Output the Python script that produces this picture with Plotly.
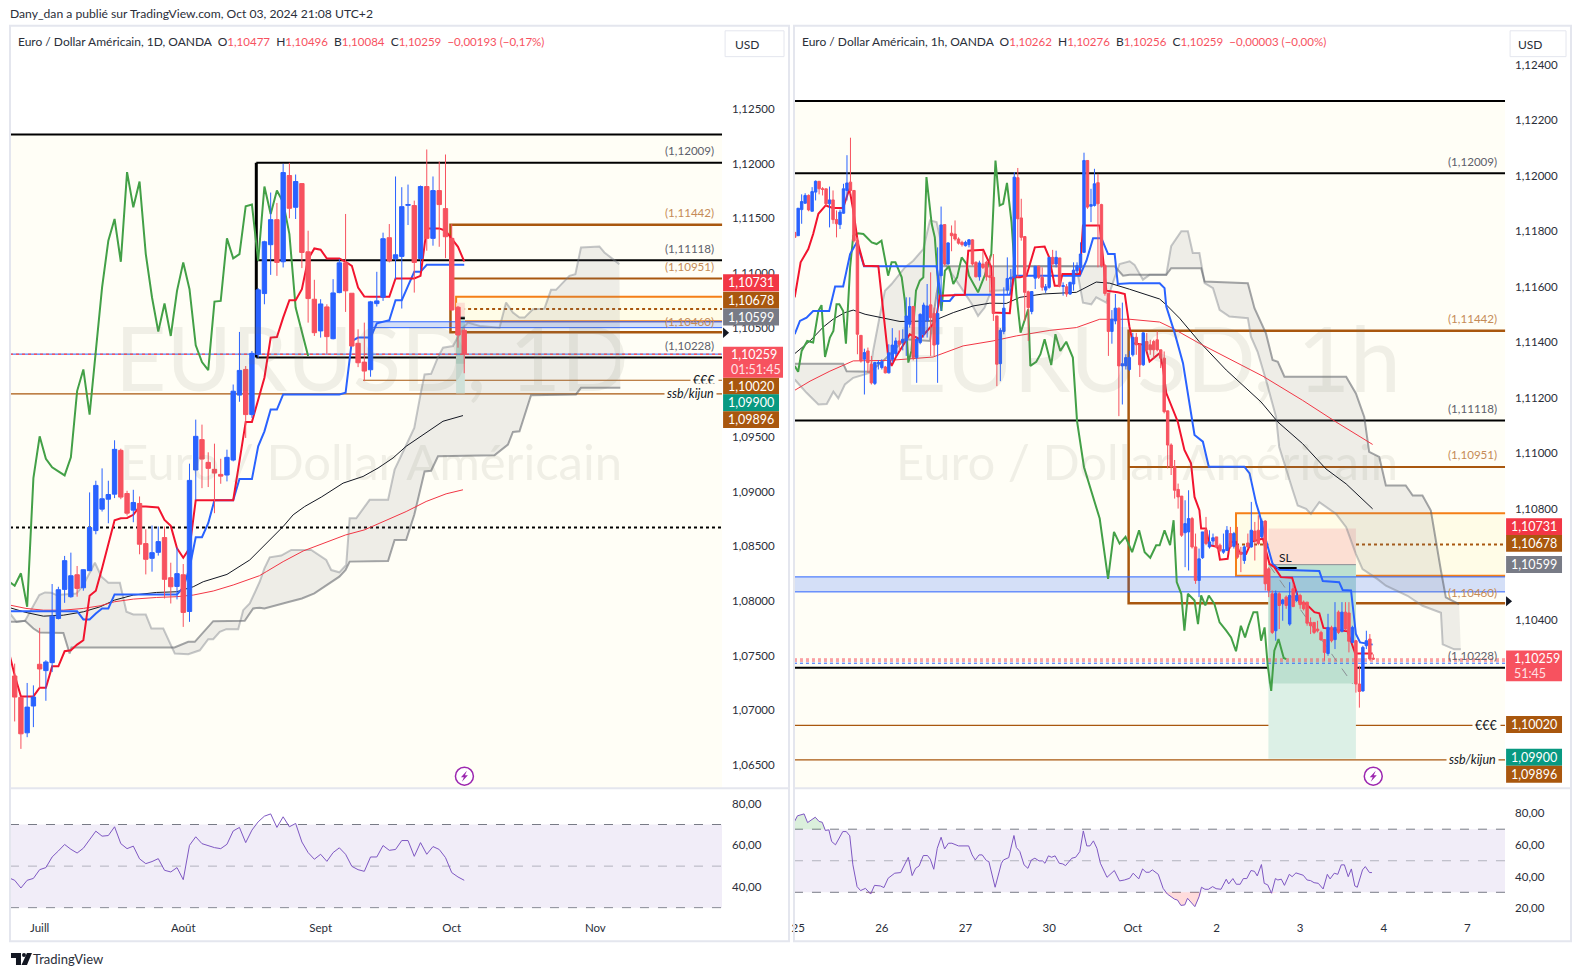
import plotly.graph_objects as go

W, H = 1578, 977

BLUE = "#2962ff"
RED = "#f7525f"
BROWN = "#a9570e"
ORANGE = "#f57f17"
CREAM = "#fffef6"
FONT = "Lato"
TXT = "#2a2e39"

# --- daily pane, bar 0 is the first visible candle
d_open = [1.07315, 1.07119, 1.06795, 1.07040, 1.07422, 1.07364, 1.07437, 1.07841, 1.08107, 1.08040,
          1.08241, 1.08122, 1.08278, 1.08645, 1.08841, 1.08932, 1.08978, 1.09379, 1.08984, 1.08832,
          1.08893, 1.08526, 1.08391, 1.08446, 1.08581, 1.08214, 1.08134, 1.08241, 1.07905, 1.09199,
          1.09477, 1.09269, 1.09205, 1.09159, 1.09153, 1.09290, 1.09884, 1.10119, 1.09706, 1.10257,
          1.10813, 1.11260, 1.11489, 1.11104, 1.11893, 1.11602, 1.11819, 1.11195, 1.10761, 1.10471,
          1.10691, 1.10400, 1.10822, 1.11094, 1.10816, 1.10358, 1.10186, 1.10116, 1.10721, 1.10780,
          1.11324, 1.11131, 1.11153, 1.11620, 1.11618, 1.11134, 1.11792, 1.11318, 1.11755, 1.11590,
          1.11318, 1.10688, 1.10477]
d_close = [1.07122, 1.06786, 1.07030, 1.07122, 1.07379, 1.07443, 1.07862, 1.08104, 1.08370, 1.08232,
           1.08116, 1.08287, 1.08673, 1.09058, 1.08936, 1.08975, 1.09388, 1.08951, 1.08804, 1.08902,
           1.08520, 1.08382, 1.08443, 1.08544, 1.08199, 1.08131, 1.08251, 1.07896, 1.09104, 1.09507,
           1.09299, 1.09214, 1.09171, 1.09143, 1.09315, 1.09920, 1.10110, 1.09706, 1.10266, 1.10847,
           1.11287, 1.11489, 1.11098, 1.11920, 1.11593, 1.11838, 1.11189, 1.10767, 1.10455, 1.10718,
           1.10419, 1.10819, 1.11094, 1.10838, 1.10333, 1.10180, 1.10104, 1.10737, 1.10746, 1.11315,
           1.11113, 1.11168, 1.11608, 1.11627, 1.11098, 1.11792, 1.11318, 1.11755, 1.11627, 1.11333,
           1.10663, 1.10434, 1.10259]
d_high = [1.07428, 1.07125, 1.07251, 1.07229, 1.07755, 1.07459, 1.08156, 1.08131, 1.08413, 1.08443,
          1.08321, 1.08290, 1.08994, 1.09101, 1.09214, 1.09101, 1.09471, 1.09394, 1.09009, 1.09018,
          1.08957, 1.08657, 1.08691, 1.08682, 1.08682, 1.08351, 1.08489, 1.08339, 1.09257, 1.09660,
          1.09614, 1.09361, 1.09440, 1.09302, 1.09385, 1.09981, 1.10462, 1.10150, 1.10287, 1.10862,
          1.11296, 1.11737, 1.11642, 1.12000, 1.12009, 1.11902, 1.11819, 1.11388, 1.10939, 1.10761,
          1.10715, 1.10945, 1.11128, 1.11541, 1.10816, 1.10486, 1.10547, 1.10746, 1.11012, 1.11370,
          1.11449, 1.11884, 1.11786, 1.11810, 1.11663, 1.11801, 1.12131, 1.11884, 1.12021, 1.12085,
          1.11449, 1.10700, 1.10496]
d_low = [1.06899, 1.06648, 1.06755, 1.06847, 1.07208, 1.07088, 1.07351, 1.07832, 1.07984, 1.08030,
         1.08040, 1.08095, 1.08275, 1.08611, 1.08819, 1.08712, 1.08942, 1.08932, 1.08783, 1.08721,
         1.08428, 1.08244, 1.08269, 1.08416, 1.08024, 1.07978, 1.08015, 1.07764, 1.07810, 1.08926,
         1.09033, 1.09043, 1.08804, 1.09073, 1.09095, 1.09278, 1.09823, 1.09492, 1.09676, 1.10226,
         1.10715, 1.10984, 1.10975, 1.11052, 1.11501, 1.11495, 1.11046, 1.10547, 1.10425, 1.10410,
         1.10257, 1.10394, 1.10816, 1.10645, 1.10333, 1.10140, 1.10012, 1.10052, 1.10694, 1.10746,
         1.11098, 1.10945, 1.10676, 1.11440, 1.10822, 1.11021, 1.11205, 1.11251, 1.11241, 1.11137,
         1.10654, 1.10318, 1.10084]

# tenkan, kijun and lagging span start one bar before the first candle
d_tenkan = [1.07550, 1.07321, 1.07128, 1.07128, 1.07128, 1.07208, 1.07208, 1.07403, 1.07403, 1.07541,
            1.07550, 1.07602, 1.07642, 1.08049, 1.08095, 1.08300, 1.08529, 1.08740, 1.08758, 1.08761,
            1.08789, 1.08865, 1.08865, 1.08859, 1.08856, 1.08743, 1.08688, 1.08483, 1.08397, 1.08483,
            1.08923, 1.08923, 1.08923, 1.08923, 1.08923, 1.08923, 1.08923, 1.09278, 1.09639, 1.09639,
            1.09844, 1.10043, 1.10410, 1.10416, 1.10593, 1.10752, 1.10752, 1.10853, 1.11128, 1.11226,
            1.11214, 1.11134, 1.11134, 1.11134, 1.11104, 1.11067, 1.10868, 1.10786, 1.10783, 1.10783,
            1.10783, 1.10783, 1.10951, 1.10951, 1.10951, 1.10951, 1.10975, 1.11409, 1.11409, 1.11409,
            1.11388, 1.11312, 1.11241, 1.11107]
d_kijun = [1.07908, 1.07908, 1.07908, 1.07908, 1.07908, 1.07908, 1.07908, 1.07908, 1.07908, 1.07908,
           1.07908, 1.07908, 1.07832, 1.07832, 1.07887, 1.07933, 1.07933, 1.08061, 1.08061, 1.08061,
           1.08061, 1.08061, 1.08061, 1.08061, 1.08061, 1.08061, 1.08061, 1.08061, 1.08125, 1.08300,
           1.08584, 1.08584, 1.08712, 1.08923, 1.08923, 1.08923, 1.08923, 1.09116, 1.09116, 1.09116,
           1.09416, 1.09553, 1.09752, 1.09752, 1.09890, 1.09890, 1.09890, 1.09890, 1.09890, 1.09890,
           1.09890, 1.09890, 1.09890, 1.09890, 1.09905, 1.10379, 1.10410, 1.10410, 1.10410, 1.10541,
           1.10556, 1.10569, 1.10752, 1.10752, 1.10884, 1.11012, 1.11012, 1.11076, 1.11076, 1.11076,
           1.11076, 1.11076, 1.11076, 1.11076]
d_chikou = [1.08183, 1.08140, 1.08254, 1.07948, 1.09125, 1.09507, 1.09302, 1.09223, 1.09186, 1.09150,
            1.09315, 1.09921, 1.10119, 1.09706, 1.10288, 1.10869, 1.11297, 1.11495, 1.11104, 1.11924,
            1.11602, 1.11838, 1.11174, 1.10777, 1.10465, 1.10722, 1.10425, 1.10838, 1.11098, 1.10853,
            1.10339, 1.10187, 1.10113, 1.10740, 1.10746, 1.11318, 1.11135, 1.11174, 1.11612, 1.11627,
            1.11113, 1.11792, 1.11541, 1.11755, 1.11648, 1.11357, 1.10685, 1.10471, 1.10241]

d_ema_black_bars = [-0.75, 1.8, 4.6, 7.8, 11, 13.7, 16, 19, 22.7, 25.9, 28.6, 30.2, 34, 37.65, 43, 44.6,
                    46.45, 49.1, 52.6, 55.8, 58.2, 60.6, 62.7, 65.9, 68.6, 71.8]
d_ema_black = [1.07939, 1.07896, 1.07862, 1.07871, 1.07902, 1.07948, 1.08009, 1.08055, 1.08079, 1.08085,
               1.08131, 1.08177, 1.08244, 1.08376, 1.08682, 1.08789, 1.08865, 1.08951, 1.09079, 1.09140,
               1.09217, 1.09309, 1.09416, 1.09538, 1.09645, 1.09697]
d_ema_red_bars = [-0.75, 1.8, 4.6, 7.8, 11, 13.7, 16, 19, 22.7, 25.9, 28.6, 31.8, 35, 39.2, 40.3, 43, 46.2,
                  49.1, 53, 56, 59, 62.7, 65.9, 69.1, 71.8]
d_ema_red = [1.07963, 1.07933, 1.07917, 1.07917, 1.07933, 1.07957, 1.07994, 1.08018, 1.08033, 1.08040,
             1.08055, 1.08092, 1.08147, 1.08232, 1.08269, 1.08361, 1.08458, 1.08520, 1.08605, 1.08651,
             1.08728, 1.08819, 1.08911, 1.08981, 1.09018]

d_span_a_bars = [-0.75, 0.3, 1.65, 2.7, 3.94, 4.85, 5.9, 6.7, 9.9, 11, 12.85, 13.9, 15, 16.85, 17.9, 19, 21,
                 21.9, 23.8, 25.65, 27.8, 29.65, 31, 31.8, 32.85, 33.9, 35.8, 36.6, 37.65, 39.25, 40, 40.85,
                 42.7, 44.3, 47.5, 49.9, 50.7, 52, 53.1, 53.65, 54.7, 56.85, 59.8, 60.85, 62.7, 64, 65.1,
                 65.65, 66.7, 67.8, 68.6, 70.2, 71.8, 72.6, 74.5, 77.65, 78.7, 79.8, 80.85, 81.65, 83, 84.85,
                 85.9, 86.7, 88.85, 89.8, 90.7, 93.65, 94.45, 96.85]
d_span_a = [1.07887, 1.07810, 1.07819, 1.07933, 1.08055, 1.08079, 1.08076, 1.08055, 1.08070, 1.08147, 1.08351,
            1.08223, 1.08168, 1.08168, 1.07902, 1.07877, 1.07877, 1.07749, 1.07749, 1.07520, 1.07514, 1.07550,
            1.07651, 1.07651, 1.07719, 1.07743, 1.07743, 1.07917, 1.07978, 1.08177, 1.08299, 1.08400, 1.08416,
            1.08468, 1.08468, 1.08376, 1.08284, 1.08263, 1.08330, 1.08758, 1.08758, 1.08926, 1.08926, 1.09202,
            1.09431, 1.09584, 1.09920, 1.10073, 1.10079, 1.10232, 1.10318, 1.10333, 1.10501, 1.10547, 1.10516,
            1.10501, 1.10731, 1.10639, 1.10593, 1.10593, 1.10669, 1.10675, 1.10847, 1.10847, 1.10975, 1.10990,
            1.11235, 1.11244, 1.11189, 1.11082]
d_span_b_bars = [-0.75, 0.3, 1.65, 3, 4, 7.8, 8.8, 9.1, 25.6, 27.8, 28.85, 31.8, 36.85, 38.2, 39.25, 40, 44, 46,
                 48, 50, 52, 53, 53.65, 59.8, 60.85, 62.7, 64, 65.65, 66.7, 67.8, 76.85, 79, 79.8, 80.85, 82.7,
                 89.9, 90.7, 97]
d_span_b = [1.07810, 1.07810, 1.07819, 1.07749, 1.07712, 1.07709, 1.07520, 1.07575, 1.07575, 1.07627, 1.07627,
            1.07816, 1.07819, 1.07933, 1.07939, 1.07932, 1.07994, 1.08024, 1.08070, 1.08146, 1.08223, 1.08284,
            1.08361, 1.08367, 1.08559, 1.08559, 1.08789, 1.09186, 1.09192, 1.09324, 1.09333, 1.09431, 1.09547,
            1.09553, 1.09883, 1.09890, 1.09951, 1.09951]

d_rsi = [44.5, 43.2, 39.5, 43.2, 44.1, 48.3, 49.3, 54.4, 57.3, 60.4, 58.1, 56.3, 58.6, 62.9, 66.8, 64.4, 64.7,
         68.9, 60.8, 58.4, 59.6, 53.5, 51.2, 52.2, 53.6, 48.0, 47.2, 49.3, 43.5, 60.0, 64.1, 60.8, 59.7, 58.9,
         58.4, 60.5, 66.9, 68.6, 61.3, 67.3, 71.3, 74.0, 75.1, 68.6, 73.7, 68.9, 70.5, 61.6, 56.5, 53.3, 55.7,
         52.3, 56.5, 58.8, 55.7, 49.9, 48.3, 47.5, 54.4, 54.4, 59.9, 57.6, 58.0, 62.3, 62.3, 54.7, 61.3, 55.7,
         59.4, 58.0, 54.1, 46.9, 44.8, 43.2]

# --- hourly pane
h1_open = [1.11796, 1.11784, 1.11878, 1.11901, 1.11929, 1.11872, 1.11941, 1.11980, 1.11953, 1.11953,
           1.11899, 1.11913, 1.11842, 1.11824, 1.11865, 1.11947, 1.11977, 1.11947, 1.11766, 1.11425,
           1.11339, 1.11369, 1.11321, 1.11252, 1.11323, 1.11309, 1.11311, 1.11290, 1.11339, 1.11359,
           1.11405, 1.11399, 1.11405, 1.11465, 1.11529, 1.11345, 1.11399, 1.11429, 1.11477, 1.11535,
           1.11504, 1.11393, 1.11640, 1.11824, 1.11682, 1.11793, 1.11790, 1.11772, 1.11760, 1.11748,
           1.11752, 1.11769, 1.11688, 1.11636, 1.11682, 1.11688, 1.11640, 1.11634, 1.11495, 1.11323,
           1.11439, 1.11588, 1.11628, 1.11634, 1.11993, 1.11848, 1.11781, 1.11582, 1.11511, 1.11631,
           1.11674, 1.11634, 1.11588, 1.11598, 1.11706, 1.11682, 1.11704, 1.11601, 1.11600, 1.11574,
           1.11610, 1.11658, 1.11670, 1.11724, 1.12055, 1.11890, 1.11893, 1.11975, 1.11896, 1.11676,
           1.11577, 1.11439, 1.11477, 1.11523, 1.11315, 1.11315, 1.11302, 1.11355, 1.11418, 1.11391,
           1.11319, 1.11403, 1.11391, 1.11403, 1.11409, 1.11373, 1.11343, 1.11153, 1.11030, 1.10952,
           1.10870, 1.10846, 1.10714, 1.10717, 1.10765, 1.10663, 1.10542, 1.10624, 1.10723, 1.10663,
           1.10684, 1.10699, 1.10669, 1.10644, 1.10650, 1.10711, 1.10665, 1.10669, 1.10644, 1.10614,
           1.10677, 1.10663, 1.10720, 1.10723, 1.10699, 1.10756, 1.10584, 1.10494, 1.10361, 1.10494,
           1.10458, 1.10482, 1.10385, 1.10512, 1.10470, 1.10488, 1.10464, 1.10464, 1.10391, 1.10391,
           1.10367, 1.10355, 1.10329, 1.10279, 1.10373, 1.10329, 1.10428, 1.10359, 1.10428, 1.10425,
           1.10319, 1.10325, 1.10169, 1.10144, 1.10307, 1.10331, 1.10262]
h1_close = [1.11778, 1.11883, 1.11907, 1.11929, 1.11877, 1.11943, 1.11980, 1.11953, 1.11951, 1.11899,
            1.11913, 1.11842, 1.11827, 1.11869, 1.11953, 1.11974, 1.11947, 1.11766, 1.11429, 1.11333,
            1.11363, 1.11327, 1.11254, 1.11327, 1.11327, 1.11330, 1.11290, 1.11362, 1.11390, 1.11405,
            1.11393, 1.11411, 1.11495, 1.11529, 1.11345, 1.11411, 1.11501, 1.11534, 1.11531, 1.11489,
            1.11390, 1.11504, 1.11823, 1.11682, 1.11758, 1.11784, 1.11772, 1.11757, 1.11752, 1.11760,
            1.11769, 1.11682, 1.11636, 1.11686, 1.11670, 1.11636, 1.11634, 1.11504, 1.11321, 1.11443,
            1.11523, 1.11630, 1.11634, 1.11995, 1.11845, 1.11778, 1.11580, 1.11525, 1.11583, 1.11674,
            1.11634, 1.11598, 1.11600, 1.11706, 1.11682, 1.11706, 1.11604, 1.11604, 1.11574, 1.11616,
            1.11660, 1.11676, 1.11718, 1.12055, 1.11887, 1.11896, 1.11971, 1.11899, 1.11676, 1.11576,
            1.11439, 1.11483, 1.11523, 1.11315, 1.11323, 1.11345, 1.11345, 1.11418, 1.11391, 1.11319,
            1.11434, 1.11373, 1.11373, 1.11373, 1.11373, 1.11343, 1.11150, 1.11030, 1.10952, 1.10867,
            1.10843, 1.10705, 1.10747, 1.10765, 1.10663, 1.10542, 1.10620, 1.10717, 1.10675, 1.10681,
            1.10696, 1.10663, 1.10650, 1.10653, 1.10723, 1.10663, 1.10711, 1.10626, 1.10636, 1.10663,
            1.10663, 1.10723, 1.10687, 1.10675, 1.10756, 1.10530, 1.10506, 1.10355, 1.10496, 1.10452,
            1.10472, 1.10452, 1.10488, 1.10448, 1.10488, 1.10455, 1.10440, 1.10388, 1.10379, 1.10355,
            1.10361, 1.10328, 1.10283, 1.10373, 1.10325, 1.10373, 1.10355, 1.10428, 1.10367, 1.10323,
            1.10373, 1.10169, 1.10142, 1.10301, 1.10325, 1.10259, 1.10259]
h1_high = [1.11796, 1.11883, 1.11933, 1.11937, 1.11933, 1.11959, 1.11983, 1.11980, 1.11959, 1.11953,
           1.11961, 1.11947, 1.11875, 1.11878, 1.11971, 1.12074, 1.12137, 1.11947, 1.11778, 1.11425,
           1.11377, 1.11381, 1.11351, 1.11330, 1.11336, 1.11339, 1.11315, 1.11393, 1.11451, 1.11417,
           1.11443, 1.11447, 1.11562, 1.11562, 1.11531, 1.11421, 1.11504, 1.11543, 1.11610, 1.11652,
           1.11525, 1.11742, 1.11889, 1.11824, 1.11760, 1.11821, 1.11839, 1.11778, 1.11766, 1.11766,
           1.11772, 1.11772, 1.11692, 1.11694, 1.11730, 1.11694, 1.11712, 1.11718, 1.11495, 1.11451,
           1.11598, 1.11706, 1.11664, 1.12013, 1.12028, 1.11917, 1.11781, 1.11586, 1.11583, 1.11674,
           1.11676, 1.11670, 1.11610, 1.11706, 1.11733, 1.11730, 1.11704, 1.11616, 1.11610, 1.11618,
           1.11688, 1.11688, 1.11760, 1.12083, 1.12055, 1.11953, 1.12025, 1.12007, 1.11899, 1.11682,
           1.11577, 1.11516, 1.11574, 1.11525, 1.11543, 1.11357, 1.11369, 1.11434, 1.11434, 1.11397,
           1.11436, 1.11434, 1.11409, 1.11409, 1.11440, 1.11373, 1.11367, 1.11154, 1.11036, 1.10976,
           1.10891, 1.10846, 1.10831, 1.10867, 1.10771, 1.10711, 1.10657, 1.10717, 1.10771, 1.10723,
           1.10711, 1.10699, 1.10675, 1.10711, 1.10738, 1.10735, 1.10717, 1.10735, 1.10663, 1.10669,
           1.10711, 1.10825, 1.10753, 1.10777, 1.10765, 1.10759, 1.10590, 1.10506, 1.10506, 1.10500,
           1.10476, 1.10488, 1.10536, 1.10530, 1.10506, 1.10494, 1.10470, 1.10464, 1.10409, 1.10391,
           1.10397, 1.10361, 1.10331, 1.10422, 1.10379, 1.10464, 1.10434, 1.10464, 1.10464, 1.10464,
           1.10379, 1.10328, 1.10235, 1.10307, 1.10361, 1.10349, 1.10276]
h1_low = [1.11778, 1.11784, 1.11827, 1.11899, 1.11872, 1.11872, 1.11911, 1.11933, 1.11929, 1.11889,
          1.11814, 1.11827, 1.11778, 1.11808, 1.11863, 1.11911, 1.11935, 1.11760, 1.11357, 1.11327,
          1.11212, 1.11290, 1.11248, 1.11246, 1.11302, 1.11302, 1.11288, 1.11288, 1.11327, 1.11351,
          1.11369, 1.11371, 1.11351, 1.11453, 1.11335, 1.11254, 1.11393, 1.11417, 1.11417, 1.11351,
          1.11351, 1.11254, 1.11513, 1.11676, 1.11680, 1.11728, 1.11766, 1.11752, 1.11745, 1.11745,
          1.11742, 1.11676, 1.11634, 1.11622, 1.11664, 1.11622, 1.11580, 1.11477, 1.11242, 1.11260,
          1.11429, 1.11574, 1.11598, 1.11634, 1.11634, 1.11766, 1.11477, 1.11405, 1.11501, 1.11592,
          1.11628, 1.11586, 1.11578, 1.11593, 1.11680, 1.11670, 1.11598, 1.11568, 1.11564, 1.11571,
          1.11586, 1.11646, 1.11658, 1.11724, 1.11881, 1.11833, 1.11889, 1.11670, 1.11670, 1.11568,
          1.11351, 1.11395, 1.11465, 1.11134, 1.11176, 1.11302, 1.11296, 1.11349, 1.11355, 1.11275,
          1.11315, 1.11367, 1.11355, 1.11343, 1.11367, 1.11307, 1.11144, 1.10946, 1.10922, 1.10837,
          1.10801, 1.10699, 1.10590, 1.10578, 1.10657, 1.10530, 1.10482, 1.10620, 1.10669, 1.10657,
          1.10669, 1.10657, 1.10644, 1.10638, 1.10648, 1.10657, 1.10657, 1.10620, 1.10572, 1.10602,
          1.10657, 1.10660, 1.10614, 1.10669, 1.10693, 1.10506, 1.10482, 1.10349, 1.10325, 1.10367,
          1.10397, 1.10440, 1.10379, 1.10446, 1.10464, 1.10440, 1.10434, 1.10379, 1.10349, 1.10349,
          1.10355, 1.10325, 1.10253, 1.10271, 1.10319, 1.10295, 1.10349, 1.10355, 1.10361, 1.10283,
          1.10316, 1.10138, 1.10084, 1.10142, 1.10295, 1.10253, 1.10256]

h1_tenkan_bars = [0, 1.7, 3.9, 5.3, 6.8, 8.9, 10.9, 13.9, 15.7, 16.8, 18.2, 19.9, 24, 26.8, 27.8, 29.2, 31.6,
                  33, 35.9, 38.8, 40.5, 41.6, 48.8, 49.8, 54.1, 56.4, 56.9, 61.7, 62.7, 64.6, 66.5, 68.9, 71.7,
                  73, 74.6, 76, 76.8, 81.8, 82.7, 87.5, 89.4, 92.7, 94.7, 96, 97, 100.4, 101.8, 104.7, 105.6,
                  106.6, 109.9, 111.8, 113.7, 114.7, 116.1, 116.6, 118, 119, 121.4, 122, 124.2, 124.9, 126.6,
                  127.6, 129.5, 131, 134.3, 136.2, 137.6, 139.5, 142.7, 144.8, 146.7, 149.1, 150.5, 151.7,
                  153.9, 158.6, 160.8, 165.8]
h1_tenkan = [1.11562, 1.11688, 1.11736, 1.11790, 1.11863, 1.11893, 1.11884, 1.11884, 1.11953, 1.11875, 1.11754,
             1.11676, 1.11674, 1.11351, 1.11315, 1.11351, 1.11399, 1.11429, 1.11411, 1.11453, 1.11477, 1.11568,
             1.11571, 1.11730, 1.11733, 1.11670, 1.11507, 1.11505, 1.11634, 1.11634, 1.11640, 1.11742, 1.11745,
             1.11706, 1.11604, 1.11604, 1.11646, 1.11646, 1.11821, 1.11821, 1.11586, 1.11580, 1.11574, 1.11458,
             1.11397, 1.11391, 1.11331, 1.11361, 1.11313, 1.11217, 1.11114, 1.11012, 1.10964, 1.10843, 1.10795,
             1.10729, 1.10729, 1.10669, 1.10663, 1.10617, 1.10620, 1.10681, 1.10681, 1.10642, 1.10638, 1.10681,
             1.10693, 1.10602, 1.10590, 1.10554, 1.10552, 1.10464, 1.10458, 1.10428, 1.10424, 1.10371, 1.10367,
             1.10359, 1.10279, 1.10279]
h1_kijun_bars = [0, 1.5, 3.4, 5.3, 9.9, 11.6, 13.9, 15.9, 17.8, 19.9, 40.7, 42.1, 44.5, 45.9, 61.7, 63.1, 81.8,
                 83.7, 85.6, 88, 89.9, 91.8, 92.7, 96.1, 104.7, 106.1, 106.6, 109, 111.4, 112.8, 114.7, 117.1,
                 118.8, 129, 130.5, 132.4, 133.3, 135.2, 137.1, 139, 150.5, 151.5, 156.2, 157.2, 159.6, 161,
                 162.2, 165.8]
h1_kijun = [1.11429, 1.11477, 1.11489, 1.11513, 1.11513, 1.11601, 1.11601, 1.11718, 1.11760, 1.11674, 1.11674,
            1.11549, 1.11549, 1.11571, 1.11571, 1.11640, 1.11640, 1.11694, 1.11775, 1.11775, 1.11718, 1.11718,
            1.11610, 1.11613, 1.11613, 1.11595, 1.11529, 1.11434, 1.11325, 1.11217, 1.11066, 1.11042, 1.10952,
            1.10952, 1.10928, 1.10819, 1.10783, 1.10687, 1.10602, 1.10581, 1.10576, 1.10540, 1.10536, 1.10508,
            1.10506, 1.10349, 1.10319, 1.10311]
h1_chikou_bars = [0, 1, 2, 3.6, 5.3, 6.8, 7.7, 8.7, 10.1, 11.1, 12, 12.8, 13.9, 14.7, 15.9, 16.8, 18.2, 19.7, 22.1,
                  23.5, 24.9, 26.8, 27.8, 28.9, 30.7, 31.6, 32.6, 33.5, 34.8, 35.9, 36.9, 37.8, 39.3, 40.2, 41.2,
                  42.1, 43.1, 44.3, 45.5, 46.6, 47.9, 49.3, 50, 51.2, 52.6, 54.5, 56.4, 57.6, 58.8, 59.8, 60.9,
                  62.2, 63.6, 64.8, 67, 67.6, 69.3, 70.5, 71.7, 73.6, 74.8, 76.2, 77.9, 79.8, 81, 83, 87.5, 89.9,
                  91.6, 93.2, 94.9, 96.8, 98.8, 100.4, 102, 103.7, 104.7, 106.1, 107.7, 108.7, 109.6, 110.9, 111.8,
                  112.8, 114.7, 115.7, 116.6, 117.8, 118.8, 120.4, 121.9, 123.8, 125.2, 126.6, 128, 129.2, 130.2,
                  131.6, 132.7, 133.8, 134.8, 135.7, 136.7, 137.6, 138.8, 140.3, 141]
h1_chikou = [1.11315, 1.11294, 1.11369, 1.11405, 1.11399, 1.11513, 1.11534, 1.11347, 1.11417, 1.11441, 1.11537,
             1.11537, 1.11513, 1.11395, 1.11670, 1.11784, 1.11793, 1.11790, 1.11760, 1.11754, 1.11766, 1.11640,
             1.11688, 1.11688, 1.11634, 1.11549, 1.11327, 1.11369, 1.11586, 1.11622, 1.11634, 1.11995, 1.11827,
             1.11778, 1.11598, 1.11513, 1.11658, 1.11674, 1.11610, 1.11634, 1.11706, 1.11682, 1.11640, 1.11610,
             1.11580, 1.11640, 1.11718, 1.12055, 1.11893, 1.11899, 1.11974, 1.11833, 1.11574, 1.11435, 1.11519,
             1.11315, 1.11330, 1.11357, 1.11411, 1.11318, 1.11429, 1.11369, 1.11402, 1.11345, 1.11116, 1.10950,
             1.10765, 1.10548, 1.10717, 1.10675, 1.10699, 1.10644, 1.10723, 1.10644, 1.10624, 1.10669, 1.10669,
             1.10723, 1.10669, 1.10759, 1.10536, 1.10494, 1.10361, 1.10494, 1.10470, 1.10385, 1.10488, 1.10452,
             1.10488, 1.10458, 1.10391, 1.10361, 1.10337, 1.10287, 1.10379, 1.10337, 1.10379, 1.10428, 1.10428,
             1.10325, 1.10373, 1.10235, 1.10144, 1.10289, 1.10331, 1.10263, 1.10259]
h1_ema_black_bars = [0, 4.4, 8.2, 11, 14.4, 16.8, 20.2, 25.4, 30.2, 39.7, 45.5, 51.2, 56, 60.7, 64.6, 71.2, 80.8,
                     86.5, 90.4, 96.1, 104.7, 106.6, 110.4, 116.1, 123.8, 133.8, 138.6, 145.7, 152.4, 158.2, 165.8]
h1_ema_black = [1.11359, 1.11405, 1.11455, 1.11483, 1.11507, 1.11516, 1.11501, 1.11487, 1.11475, 1.11477, 1.11507,
                1.11531, 1.11541, 1.11540, 1.11562, 1.11574, 1.11580, 1.11617, 1.11613, 1.11591, 1.11556, 1.11535,
                1.11487, 1.11402, 1.11300, 1.11185, 1.11113, 1.11035, 1.10944, 1.10890, 1.10800]
h1_ema_red_bars = [0, 4.4, 10.1, 16.8, 27.3, 39.7, 48.3, 56.9, 63.6, 73.2, 80.8, 87.5, 96.1, 104.7, 108.5, 116.1,
                   134.3, 145.7, 155.3, 165.8]
h1_ema_red = [1.11227, 1.11260, 1.11296, 1.11333, 1.11335, 1.11347, 1.11387, 1.11405, 1.11423, 1.11443, 1.11453,
              1.11483, 1.11483, 1.11473, 1.11450, 1.11396, 1.11278, 1.11191, 1.11113, 1.11032]
h1_span_a_bars = [0, 3.4, 6.8, 9.2, 11.1, 12.5, 14.4, 16.8, 21.6, 22.5, 24.5, 25.9, 27.8, 31.6, 34, 36.9, 38.8,
                  40.7, 42.1, 43.6, 48.3, 50.7, 52.6, 54.5, 56.4, 61.7, 62.9, 80.8, 82.7, 85.1, 86.5, 89.4, 91.8,
                  93.2, 96.1, 97.5, 99.9, 101.8, 106.6, 108, 110.9, 112.8, 114.2, 116.1, 117.6, 120, 121.9, 124.7,
                  130, 130.9, 132.8, 135.2, 138.1, 139, 142.9, 144.3, 146.7, 148.1, 150.5, 155.3, 158.2, 161,
                  162.9, 167.2, 169.6, 175.8, 180.1, 183.9, 185.4, 185.9, 189.2, 191.1]
h1_span_a = [1.11266, 1.11218, 1.11176, 1.11178, 1.11222, 1.11198, 1.11248, 1.11272, 1.11290, 1.11369, 1.11501,
             1.11586, 1.11610, 1.11670, 1.11694, 1.11736, 1.11839, 1.11833, 1.11754, 1.11674, 1.11586, 1.11540,
             1.11495, 1.11525, 1.11586, 1.11588, 1.11674, 1.11674, 1.11543, 1.11537, 1.11562, 1.11543, 1.11634,
             1.11682, 1.11692, 1.11679, 1.11625, 1.11643, 1.11643, 1.11746, 1.11800, 1.11800, 1.11722, 1.11722,
             1.11613, 1.11595, 1.11517, 1.11493, 1.11487, 1.11420, 1.11366, 1.11264, 1.11131, 1.11023, 1.10866,
             1.10812, 1.10800, 1.10782, 1.10824, 1.10782, 1.10734, 1.10637, 1.10583, 1.10547, 1.10523, 1.10487,
             1.10451, 1.10433, 1.10426, 1.10312, 1.10294, 1.10294]
h1_span_b_bars = [0, 13.9, 14.9, 21.6, 25.4, 31.6, 38.8, 40.7, 42.1, 91.8, 94.2, 96.1, 106.6, 108, 116.6, 117.6,
                  130, 131.9, 135.2, 137.1, 138.6, 140.5, 158.2, 161, 163.4, 164.8, 167.7, 169.6, 175.3, 177.3,
                  180.1, 182.5, 185.4, 186.8, 190.6]
h1_span_b = [1.11323, 1.11323, 1.11296, 1.11294, 1.11333, 1.11411, 1.11405, 1.11574, 1.11674, 1.11674, 1.11640,
             1.11643, 1.11643, 1.11667, 1.11667, 1.11619, 1.11613, 1.11523, 1.11432, 1.11336, 1.11330, 1.11276,
             1.11276, 1.11216, 1.11131, 1.11005, 1.10987, 1.10884, 1.10884, 1.10848, 1.10848, 1.10794, 1.10577,
             1.10481, 1.10457]
h1_rsi_bars = [-0.2, 0.8, 2.7, 3.7, 5.9, 7, 7.9, 8.8, 9.8, 10.6, 11.7, 13.8, 14.8, 15.8, 16.7, 17.9, 18.9, 20.3,
               21.8, 22.9, 24.6, 25.6, 26.8, 28.7, 30.4, 32.6, 33.7, 34.7, 35.7, 36.9, 38.1, 38.9, 39.9, 40.9, 42,
               43, 44.1, 45.1, 47, 49.9, 50.9, 51.8, 52.9, 53.8, 55, 55.7, 57.5, 59.3, 59.9, 61.4, 62.9, 63.6, 64.6,
               65.8, 66.9, 67.9, 68.9, 70.1, 71.1, 71.8, 72.8, 73.7, 74.7, 75.9, 76.9, 77.7, 79.5, 80.6, 81.8, 82.8,
               83.8, 84.7, 85.7, 86.7, 87.7, 89.6, 91.7, 93.2, 94.6, 96.1, 97.1, 98.7, 99.8, 100.8, 101.7, 102.6,
               104.3, 105.7, 106.9, 109, 109.8, 110.8, 111.9, 112.7, 114.8, 116, 116.7, 117.7, 118.7, 119.9, 120.9,
               122.3, 123.8, 124.5, 125.7, 126.7, 127.8, 128.7, 129.7, 130.9, 131.9, 132.7, 133.9, 134.7, 135.7,
               136.8, 137.9, 138.6, 139.6, 140.5, 141.9, 142.7, 143.8, 145, 145.9, 147, 148, 149, 150.2, 151.6,
               152.8, 153.6, 154.8, 155.8, 156.8, 157.7, 158.8, 159.7, 160.7, 161.4, 162.9, 163.7, 164.9, 165.6]
h1_rsi = [74.2, 78.5, 79.7, 74.2, 77.6, 74.9, 74.4, 69.2, 69.6, 62.2, 60.1, 68.5, 68.5, 65.8, 47.4, 33.6, 31.1, 32.5,
          28.9, 34.4, 34.0, 33.0, 38.9, 42.1, 42.5, 52.2, 40.6, 45.2, 46.7, 53.3, 53.3, 51.0, 44.6, 57.9, 64.9, 57.5,
          61.1, 61.1, 59.4, 59.4, 53.7, 50.5, 53.7, 53.7, 50.1, 49.5, 33.2, 48.4, 50.5, 52.0, 66.0, 58.4, 55.8, 47.4,
          45.2, 50.5, 51.6, 49.9, 49.9, 48.4, 53.1, 52.2, 53.1, 48.4, 48.0, 46.9, 51.6, 52.2, 55.8, 68.9, 59.4, 59.4,
          62.6, 57.9, 48.4, 39.5, 43.8, 37.2, 37.8, 38.9, 42.1, 38.5, 44.8, 42.7, 42.7, 44.2, 41.4, 32.5, 28.9, 25.6,
          25.1, 21.7, 22.0, 26.2, 20.9, 27.2, 33.2, 31.9, 31.9, 33.6, 32.3, 31.9, 38.3, 35.3, 38.7, 35.1, 35.1, 38.7,
          38.7, 43.8, 43.3, 40.4, 47.6, 35.7, 34.7, 29.4, 38.7, 37.8, 38.3, 34.4, 41.4, 39.9, 42.3, 41.2, 40.8, 37.8,
          37.4, 36.1, 35.7, 32.1, 41.4, 38.5, 42.1, 41.4, 47.4, 47.4, 39.9, 44.8, 34.0, 33.2, 44.2, 46.3, 42.5, 42.5]

# --- price levels shared by both charts
level_top = 1.12269
level_high = 1.12009
level_mid = 1.11118
level_low = 1.10228
fib_high = 1.11442
fib_mid = 1.10951
fib_low = 1.10460
euro_level = 1.10020
ssb_level = 1.09896
black_dotted = 1.08673
zone_top = 1.10784
zone_mid = 1.10672
zone_bottom = 1.10559
band_top = 1.10555
band_bottom = 1.10501
pos_top = 1.10729
pos_entry = 1.10599
pos_inner = 1.10171
pos_target = 1.09900
last_price = 1.10259

# ticks sitting fully behind the price tags are left out
d_tick_vals = [1.125, 1.12, 1.115, 1.11, 1.105, 1.095, 1.09, 1.085, 1.08, 1.075, 1.07, 1.065]
h1_tick_vals = [1.124, 1.122, 1.12, 1.118, 1.116, 1.114, 1.112, 1.11, 1.108, 1.104]
d_month_bars = [4, 27, 49, 70, 93]
d_month_labels = ["Juill", "Août", "Sept", "Oct", "Nov"]
h1_day_bars = [1, 25, 49, 73, 97, 121, 145, 169, 193]
h1_day_labels = ["25", "26", "27", "30", "Oct", "2", "3", "4", "7"]

for series in (d_close, d_high, d_low):
    assert len(series) == len(d_open)
for series in (h1_close, h1_high, h1_low):
    assert len(series) == len(h1_open)


def px(x):
    return x / W


def py(y):
    return 1 - y / H


def comma(v, digits=5):
    return f"{v:.{digits}f}".replace(".", ",")


fig = go.Figure()


def add_line(x, y, axes, color, width=2, **kw):
    fig.add_trace(go.Scatter(x=x, y=y, xaxis=axes[0], yaxis=axes[1], mode="lines",
                             line=dict(color=color, width=width), hoverinfo="skip", **kw))


def add_cloud(a_x, a_y, b_x, b_y, axes):
    add_line(a_x, a_y, axes, "rgba(120,123,134,0.42)")
    add_line(b_x, b_y, axes, "rgba(90,92,100,0.55)", fill="tonexty", fillcolor="rgba(120,123,134,0.13)")


def add_candles(o, h, l, c, axes):
    fig.add_trace(go.Candlestick(x=list(range(len(o))), open=o, high=h, low=l, close=c,
                                 xaxis=axes[0], yaxis=axes[1], whiskerwidth=0, hoverinfo="skip",
                                 increasing=dict(line=dict(color=BLUE, width=1), fillcolor=BLUE),
                                 decreasing=dict(line=dict(color=RED, width=1), fillcolor=RED)))


# daily chart
d_line_bars = list(range(-1, 73))
add_cloud(d_span_a_bars, d_span_a, d_span_b_bars, d_span_b, ("x", "y"))
add_line(d_ema_black_bars, d_ema_black, ("x", "y"), "#131722", 1)
add_line(d_ema_red_bars, d_ema_red, ("x", "y"), "#f23645", 1)
add_line(d_line_bars[:len(d_chikou)], d_chikou, ("x", "y"), "#43a047")
add_line(d_line_bars, d_kijun, ("x", "y"), BLUE)
add_line(d_line_bars, d_tenkan, ("x", "y"), "#f2142e")
add_candles(d_open, d_high, d_low, d_close, ("x", "y5"))
add_line(d_line_bars, d_rsi, ("x2", "y2"), "#7e57c2", 1)

# hourly chart
add_cloud(h1_span_a_bars, h1_span_a, h1_span_b_bars, h1_span_b, ("x3", "y3"))
add_line(h1_ema_black_bars, h1_ema_black, ("x3", "y3"), "#131722", 1)
add_line(h1_ema_red_bars, h1_ema_red, ("x3", "y3"), "#f23645", 1)
add_line(h1_chikou_bars, h1_chikou, ("x3", "y3"), "#43a047")
add_line(h1_kijun_bars, h1_kijun, ("x3", "y3"), BLUE)
add_line(h1_tenkan_bars, h1_tenkan, ("x3", "y3"), "#f2142e")
add_candles(h1_open, h1_high, h1_low, h1_close, ("x3", "y6"))

# rsi overbought / oversold fills
add_line(h1_rsi_bars, [70] * len(h1_rsi), ("x4", "y4"), "rgba(0,0,0,0)", 0)
add_line(h1_rsi_bars, [max(v, 70) for v in h1_rsi], ("x4", "y4"), "rgba(0,0,0,0)", 0,
         fill="tonexty", fillcolor="rgba(76,175,80,0.2)")
add_line(h1_rsi_bars, [30] * len(h1_rsi), ("x4", "y4"), "rgba(0,0,0,0)", 0)
add_line(h1_rsi_bars, [min(v, 30) for v in h1_rsi], ("x4", "y4"), "rgba(0,0,0,0)", 0,
         fill="tonexty", fillcolor="rgba(255,82,82,0.2)")
add_line(h1_rsi_bars, h1_rsi, ("x4", "y4"), "#7e57c2", 1)

shapes = []
annotations = []


def hline(x0, x1, y, axes, color, width=2, dash="solid"):
    shapes.append(dict(type="line", xref=axes[0], yref=axes[1], x0=x0, x1=x1, y0=y, y1=y, layer="below",
                       line=dict(color=color, width=width, dash=dash)))


def box(x0, x1, y0, y1, axes, fill, color="rgba(0,0,0,0)", width=0):
    shapes.append(dict(type="rect", xref=axes[0], yref=axes[1], x0=x0, x1=x1, y0=y0, y1=y1, layer="below",
                       fillcolor=fill, line=dict(color=color, width=width)))


def page_rect(x0, y0, x1, y1, fill, line="rgba(0,0,0,0)", width=0, layer="above"):
    shapes.append(dict(type="rect", xref="paper", yref="paper", x0=px(x0), x1=px(x1), y0=py(y0), y1=py(y1),
                       fillcolor=fill, layer=layer, line=dict(color=line, width=width)))


def page_path(points, fill, layer="above"):
    d = "M " + " L ".join(f"{px(a):.5f},{py(b):.5f}" for a, b in points) + " Z"
    shapes.append(dict(type="path", xref="paper", yref="paper", path=d, fillcolor=fill, layer=layer,
                       line=dict(width=0)))


def page_text(x, y, text, size=12, color=TXT, anchor="left", **kw):
    annotations.append(dict(xref="paper", yref="paper", x=px(x), y=py(y), text=text, showarrow=False,
                            xanchor=anchor, yanchor="middle", align=anchor,
                            font=dict(family=FONT, size=size, color=color), **kw))


def chart_levels(axes, xmin, xmax, rect_start, fib_start, euro_start, zone_start, band_start,
                 pos_start, pos_end, right_px, sl_start):
    box(xmin, xmax, 1.0, level_top, axes, CREAM)
    hline(xmin, xmax, level_top, axes, "#000000")
    hline(rect_start, xmax, level_high, axes, "#000000")
    hline(rect_start, xmax, level_mid, axes, "#000000")
    hline(rect_start, xmax, level_low, axes, "#000000")
    # brown fib box
    shapes.append(dict(type="rect", xref=axes[0], yref=axes[1], x0=fib_start, x1=xmax + 20, y0=fib_low,
                       y1=fib_high, layer="below", line=dict(color=BROWN, width=2.5)))
    hline(fib_start, xmax, fib_mid, axes, BROWN)
    hline(euro_start, xmax, euro_level, axes, BROWN, 1.2)
    hline(xmin, xmax, ssb_level, axes, BROWN, 1.2)
    # orange zone
    box(zone_start, xmax + 20, zone_bottom, zone_top, axes, "rgba(255,250,215,0.5)", ORANGE, 2)
    hline(zone_start, xmax, zone_mid, axes, BROWN, 2, "dot")
    # position tool
    box(pos_start, pos_end, pos_entry, pos_top, axes, "#fcdfd3")
    box(pos_start, pos_end, pos_target, pos_entry, axes, "#dcf0e6")
    box(pos_start, pos_end, pos_inner, pos_entry, axes, "#bde0d0")
    hline(pos_start, pos_end, pos_entry, axes, "#8a8d94", 1)
    hline(sl_start[0], sl_start[1], 1.10587, axes, "#000000", 2)
    # blue band over the rest
    box(band_start, xmax, band_bottom, band_top, axes, "rgba(41,98,255,0.2)")
    hline(band_start, xmax, band_top, axes, BLUE, 1)
    hline(band_start, xmax, band_bottom, axes, BLUE, 1)
    # level labels
    for value, color, lift in [(level_high, "#5d606b", 12), (fib_high, "#c58b57", 12), (level_mid, "#5d606b", 12),
                               (fib_mid, "#c58b57", 12), (fib_low, "#c58b57", 11), (level_low, "#5d606b", 12)]:
        annotations.append(dict(xref=axes[0], yref=axes[1], x=xmax, y=value, yshift=lift, xshift=-6,
                                text=f"({comma(value)})", showarrow=False, xanchor="right", yanchor="middle",
                                font=dict(family=FONT, size=11.6, color=color)))
    for value, label, style, nudge in [(euro_level, "€€€", "normal", 2), (ssb_level, "ssb/kijun", "italic", 0)]:
        annotations.append(dict(xref="paper", yref=axes[1], x=px(right_px - 8 + nudge), y=value, text=label,
                                showarrow=False, xanchor="right", yanchor="middle", bgcolor=CREAM, borderpad=2,
                                font=dict(family=FONT, size=12.5, color="#131722", style=style)))


D_AX, H_AX = ("x", "y"), ("x3", "y3")
D_X = [-0.75, 113.3]
H_X = [-0.2, 203.8]
chart_levels(D_AX, D_X[0], D_X[1], 38.7, 69.8, 55.8, 70.7, 57.3, 70.7, 72.1, 724, (71.2, 72.1))
chart_levels(H_AX, H_X[0], H_X[1], H_X[0], 95.8, H_X[0], 126.6, H_X[0], 135.9, 161, 1507, (137.6, 144))

# daily-only lines
shapes.append(dict(type="line", xref="x", yref="y", x0=38.7, x1=38.7, y0=level_low, y1=level_high, layer="below",
                   line=dict(color="#000000", width=3)))
hline(D_X[0], D_X[1], black_dotted, D_AX, "#000000", 2, "dot")
hline(D_X[0], D_X[1], last_price, D_AX, BLUE, 1)
hline(D_X[0], D_X[1], last_price, D_AX, RED, 1.5, "dot")
# hourly last price lines
hline(H_X[0], H_X[1], last_price, H_AX, RED, 1, "dot")
hline(H_X[0], H_X[1], 1.10252, H_AX, RED, 1, "dot")
hline(H_X[0], H_X[1], 1.10244, H_AX, BLUE, 1, "dot")
shapes.append(dict(type="line", xref="x3", yref="y3", x0=136.2, x1=160.1, y0=1.10596, y1=1.10169, layer="below",
                   line=dict(color="#8a8d94", width=1, dash="dash")))
annotations.append(dict(xref="x3", yref="y3", x=140.8, y=1.10625, text="SL", showarrow=False,
                        font=dict(family=FONT, size=12, color="#131722")))

# rsi bands
for axes, xr in ((("x2", "y2"), D_X), (("x4", "y4"), H_X)):
    box(xr[0], xr[1], 30, 70, axes, "rgba(126,87,194,0.11)")
    hline(xr[0], xr[1], 70, axes, "#787b86", 1, "dash")
    hline(xr[0], xr[1], 50, axes, "rgba(120,123,134,0.5)", 1, "dash")
    hline(xr[0], xr[1], 30, axes, "#787b86", 1, "dash")

# panel frames and separators
for x0, x1 in ((8, 788), (793, 1571)):
    page_rect(x0, 26, x1, 947, "rgba(0,0,0,0)", "#e4e6ee", 2)
    shapes.append(dict(type="line", xref="paper", yref="paper", x0=px(x0), x1=px(x1), y0=py(793), y1=py(793),
                       layer="above", line=dict(color="#e4e6ee", width=2)))


def price_tag(x0, x1, yc, fill, text, sub=None, extra=0):
    if sub is None:
        page_rect(x0, yc - 8.5, x1, yc + 8.5, fill)
        page_text((x0 + x1) / 2, yc, text, 12.5, "#ffffff", "center")
    else:
        page_rect(x0, yc - 15.5, x1 + extra, yc + 15.5, fill)
        page_text(x0 + 6, yc - 7.5, text, 12.5, "#ffffff")
        page_text(x0 + 6, yc + 7.5, sub, 12.5, "#ffe0e3")


d_tags = [(284.5, "#f23645", "1,10731"), (302, BROWN, "1,10678"), (319, "#787b86", "1,10599"),
          (388.5, BROWN, "1,10020"), (405.2, "#089981", "1,09900"), (422.2, BROWN, "1,09896")]
h_tags = [(530, "#f23645", "1,10731"), (546.7, BROWN, "1,10678"), (568, "#787b86", "1,10599"),
          (729, BROWN, "1,10020"), (762, "#089981", "1,09900"), (779, BROWN, "1,09896")]
for yc, fill, text in d_tags:
    price_tag(722, 778, yc, fill, text)
price_tag(722, 778, 364.5, RED, "1,10259", "01:51:45", 4)
for yc, fill, text in h_tags:
    price_tag(1506, 1562, yc, fill, text)
price_tag(1506, 1562, 670, RED, "1,10259", "51:45")

# fib markers on the scales
page_path([(722, 329.5), (728, 334.7), (722, 340)], "#131722")
page_path([(1506, 600), (1512, 605), (1506, 610)], "#131722")

# texts
RV = "#f7525f"


def legend_text(title, o, h, b, c, change):
    vs = f"style='color:{RV};font-size:11.5px'"
    return (f"{title}&nbsp;&nbsp;O<span {vs}>{o}</span>&nbsp;&nbsp;H<span {vs}>{h}</span>"
            f"&nbsp;&nbsp;B<span {vs}>{b}</span>&nbsp;&nbsp;C<span {vs}>{c}</span>"
            f"&nbsp;&nbsp;<span {vs}>{change}</span>")


page_text(6, 14, "Dany_dan a publié sur TradingView.com, Oct 03, 2024 21:08 UTC+2", 12.15)
page_text(14, 41.5, legend_text("Euro / Dollar Américain, 1D, OANDA", "1,10477", "1,10496", "1,10084", "1,10259",
                                "−0,00193 (−0,17%)"), 12)
page_text(799, 41.5, legend_text("Euro / Dollar Américain, 1h, OANDA", "1,10262", "1,10276", "1,10256", "1,10259",
                                 "−0,00003 (−0,00%)"), 12)

for x0, x1, label_x in ((724, 783, 746), (1510, 1566, 1530)):
    shapes.append(dict(type="rect", xref="paper", yref="paper", x0=px(x0), x1=px(x1), y0=py(31), y1=py(57),
                       layer="above", fillcolor="#ffffff", line=dict(color="#e4e6ee", width=1)))
    page_text(label_x, 44.5, "USD", 12, TXT, "center")

# watermarks
WM = "rgba(120,120,100,0.11)"
for xc, big, size in ((370, "EURUSD, 1D", 89), (1147, "EURUSD, 1h", 91)):
    page_text(xc, 359, big, size, WM, "center")
    page_text(xc - 1, 464, "Euro / Dollar Américain", 49, WM, "center")


# lightning badges
def bolt(cx, cy):
    shapes.append(dict(type="circle", xref="paper", yref="paper", x0=px(cx - 9), x1=px(cx + 9), y0=py(cy - 9),
                       y1=py(cy + 9), layer="above", fillcolor="#ffffff", line=dict(color="#9c27b0", width=1.5)))
    page_path([(cx + 2.5, cy - 5.5), (cx - 3.5, cy + 1), (cx - 0.5, cy + 1), (cx - 2.5, cy + 5.5),
               (cx + 3.5, cy - 1), (cx + 0.5, cy - 1)], "#9c27b0")


bolt(463, 781)
bolt(1373, 781)

# footer logo
page_path([(9, 959), (19, 959), (19, 971), (14, 971), (14, 964), (9, 964)], "#131722")
page_path([(25, 959), (30, 959), (25, 971), (19.5, 971)], "#131722")
shapes.append(dict(type="circle", xref="paper", yref="paper", x0=px(20), x1=px(24), y0=py(959), y1=py(963),
                   layer="above", fillcolor="#131722", line=dict(width=0)))
page_text(29, 965, "TradingView", 13, "#2a2e39")

axis_font = dict(family=FONT, size=11.5, color=TXT)
base_y = dict(showgrid=False, zeroline=False, side="right", ticks="", ticklabelstandoff=9, fixedrange=True,
              tickfont=axis_font, showline=False)
base_x = dict(showgrid=False, zeroline=False, fixedrange=True, rangeslider=dict(visible=False), showline=False)
PRICE_DOMAIN = [py(793), py(26)]
RSI_DOMAIN = [py(914), py(794)]
D_RANGE = [1.06289, 1.13262]
H_RANGE = [1.09794, 1.12540]
D_DOMAIN = [px(8), px(721)]
H_DOMAIN = [px(793), px(1505)]

fig.update_layout(
    width=W, height=H, margin=dict(l=0, r=0, t=0, b=0), autosize=False,
    paper_bgcolor="#ffffff", plot_bgcolor="#ffffff", showlegend=False, boxgap=0.3, boxgroupgap=0,
    hovermode=False, shapes=shapes, annotations=annotations,
    xaxis=dict(base_x, domain=D_DOMAIN, range=D_X, visible=False, anchor="y"),
    yaxis=dict(base_y, domain=PRICE_DOMAIN, range=D_RANGE, anchor="x", tickvals=d_tick_vals,
               ticktext=[comma(v) for v in d_tick_vals]),
    yaxis5=dict(domain=PRICE_DOMAIN, range=D_RANGE, overlaying="y", anchor="x", visible=False, fixedrange=True),
    xaxis2=dict(base_x, domain=D_DOMAIN, range=D_X, anchor="y2", tickvals=d_month_bars, ticktext=d_month_labels,
                ticks="outside", ticklen=9, tickcolor="rgba(0,0,0,0)", tickfont=axis_font),
    yaxis2=dict(base_y, domain=RSI_DOMAIN, range=[29.7, 87], anchor="x2", tickvals=[80, 60, 40],
                ticktext=["80,00", "60,00", "40,00"]),
    xaxis3=dict(base_x, domain=H_DOMAIN, range=H_X, visible=False, anchor="y3"),
    yaxis3=dict(base_y, domain=PRICE_DOMAIN, range=H_RANGE, anchor="x3", tickvals=h1_tick_vals,
                ticktext=[comma(v) for v in h1_tick_vals]),
    yaxis6=dict(domain=PRICE_DOMAIN, range=H_RANGE, overlaying="y3", anchor="x3", visible=False, fixedrange=True),
    xaxis4=dict(base_x, domain=H_DOMAIN, range=H_X, anchor="y4", tickvals=h1_day_bars, ticktext=h1_day_labels,
                ticks="outside", ticklen=9, tickcolor="rgba(0,0,0,0)", tickfont=axis_font),
    yaxis4=dict(base_y, domain=RSI_DOMAIN, range=[19.8, 95.4], anchor="x4", tickvals=[80, 60, 40, 20],
                ticktext=["80,00", "60,00", "40,00", "20,00"]),
)

fig.write_html("out.html", config=dict(displayModeBar=False), post_script="document.body.style.margin='0';")
